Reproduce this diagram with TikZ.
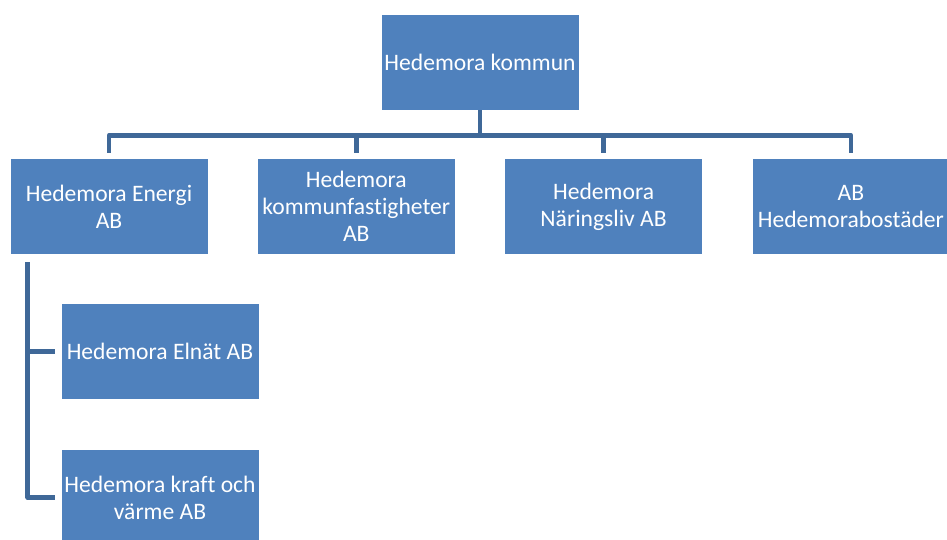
\documentclass[tikz,border=0pt]{standalone}
\usepackage{fontspec}
\setmainfont{Carlito}[Ligatures={NoCommon}]
\usepackage{xcolor}
\definecolor{boxblue}{RGB}{79,129,189}
\definecolor{linkblue}{RGB}{63,104,152}
\usepackage{tikz}
\usetikzlibrary{calc}
\newcommand{\widthunit}{198pt}
\newcommand{\heightunit}{96.5pt}
\newcommand{\stepx}{247.3}
\tikzset{
    unit/.style={draw=white, line width=0.6pt, fill=boxblue, rectangle,
        minimum width=\widthunit, minimum height=\heightunit, inner sep=1pt,
        align=center, text=white, font=\fontsize{23.6}{26.8}\selectfont},
    link/.style={linkblue, line width=4.5pt, line join=round}
}

\begin{document}
\begin{tikzpicture}[x=1pt, y=1pt]
        \useasboundingbox (0,0) rectangle (947,-540);
        \path
            node[unit, minimum height=96pt] (top) at (480,-62) {Hedemora kommun};
        \path (top)
            ++(-371,-144.5) node[unit] (energi) {Hedemora Energi\\AB}
            ++(\stepx,0) node[unit] (fast) {Hedemora\\kommunfastigheter\\AB}
            ++(\stepx,0) node[unit] (nar) {Hedemora\\Näringsliv AB}
            ++(\stepx,0) node[unit] (bost) {AB\\Hedemorabostäder};
        \path (energi)
            ++(51,-145) node[unit] (elnat) {Hedemora Elnät AB}
            ++(0,-146) node[unit] (kraft) {Hedemora kraft och\\värme AB};

        \foreach \c in {energi, fast, nar, bost}
            \draw[link, shorten >=5pt] (top.south) -- ++(0,-25) -| (\c.north);
        \coordinate (spine) at ($(energi.south west)+(18,-7)$);
        \foreach \c in {elnat, kraft}
            \draw[link, shorten >=6pt] (spine) |- (\c.west);
    \end{tikzpicture}
\end{document}
